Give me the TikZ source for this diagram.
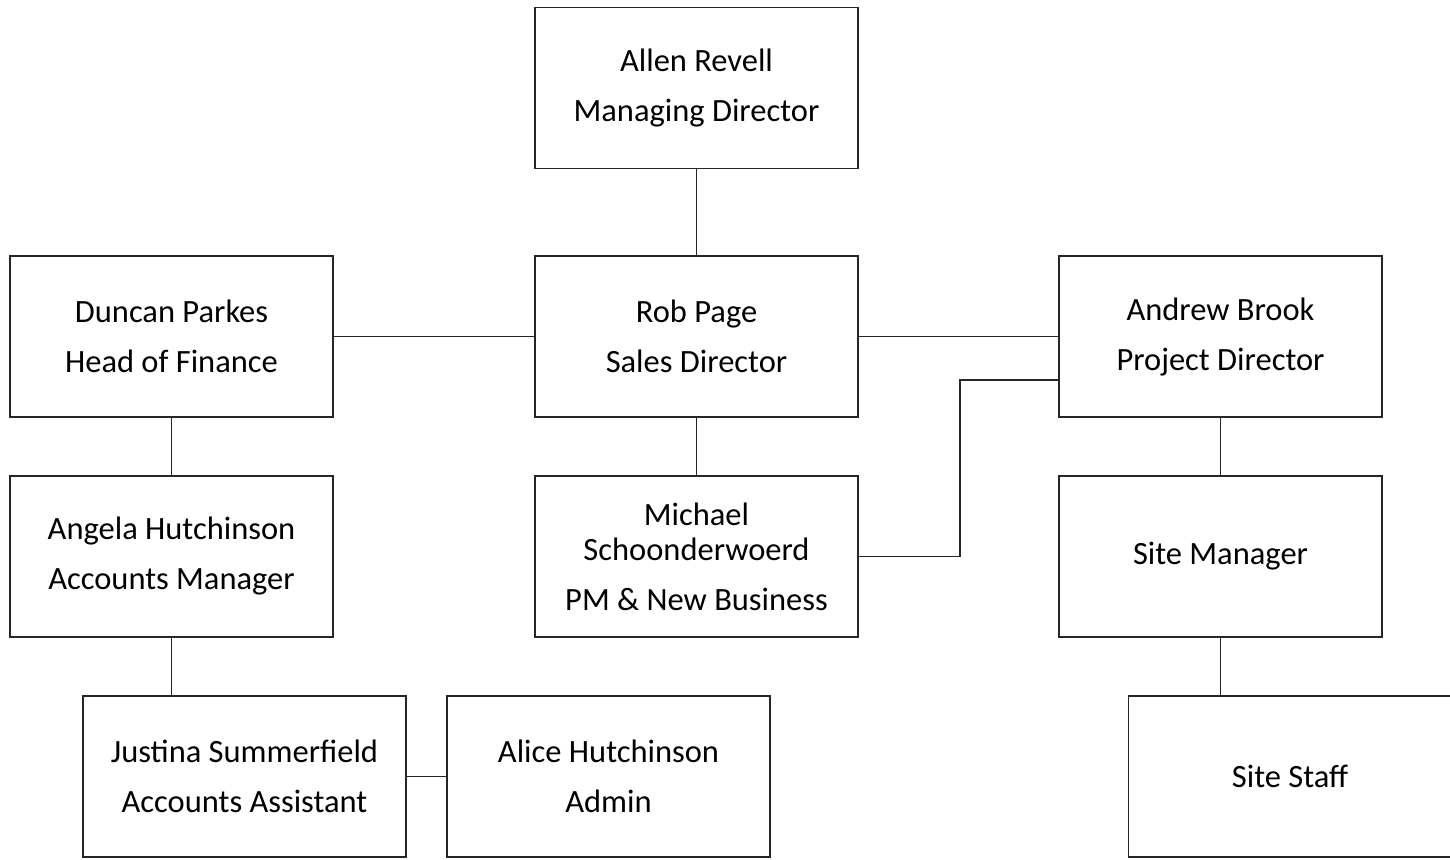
\documentclass[tikz,border=0pt]{standalone}
\usepackage{fontspec}
\setmainfont{Carlito}
\begin{document}
\begin{tikzpicture}[x=1pt,y=-1pt,
  orgbox/.style={draw=black!85, line width=1.8pt, rectangle, fill=white,
    minimum width=323pt, minimum height=161pt, inner sep=0pt, align=center,
    font=\fontsize{32.5}{35}\selectfont},
  orgline/.style={draw=black!85, line width=1.1pt}]
\useasboundingbox (0,0) rectangle (1450,859);
\pgfmathsetmacro\gap{15}
% boxes
\node[orgbox] (allen) at (696.5,88) {Allen Revell\\[\gap pt]Managing Director};
\node[orgbox] (duncan) at (171.5,336.5) {Duncan Parkes\\[\gap pt]Head of Finance};
\node[orgbox] (rob) at (696.5,336.5) {Rob Page\\[\gap pt]Sales Director};
\node[orgbox] (andrew) at (1220.5,336.5) {Andrew Brook\\[\gap pt]Project Director};
\node[orgbox] (angela) at (171.5,556.5) {Angela Hutchinson\\[\gap pt]Accounts Manager};
\node[orgbox] (michael) at (696.5,556.5) {Michael\\Schoonderwoerd\\[\gap pt]PM \& New Business};
\node[orgbox] (sitemgr) at (1220.5,556.5) {Site Manager};
\node[orgbox] (justina) at (244.5,776.5) {Justina Summerfield\\[\gap pt]Accounts Assistant};
\node[orgbox] (alice) at (608.5,776.5) {Alice Hutchinson\\[\gap pt]Admin};
\node[orgbox] (staff) at (1290,776.5) {Site Staff};
% connectors
\coordinate (bend) at (960,380);
\draw[orgline] (allen) -- (rob);
\draw[orgline] (duncan) -- (rob);
\draw[orgline] (rob) -- (andrew);
\draw[orgline] (rob) -- (michael);
\draw[orgline] (michael.east) -| (bend) -- (bend -| andrew.west);
\draw[orgline] (duncan) -- (angela);
\draw[orgline] (angela.south) -- (angela.south |- justina.north);
\draw[orgline] (justina) -- (alice);
\draw[orgline] (andrew) -- (sitemgr);
\draw[orgline] (sitemgr.south) -- (sitemgr.south |- staff.north);
\end{tikzpicture}
\end{document}
